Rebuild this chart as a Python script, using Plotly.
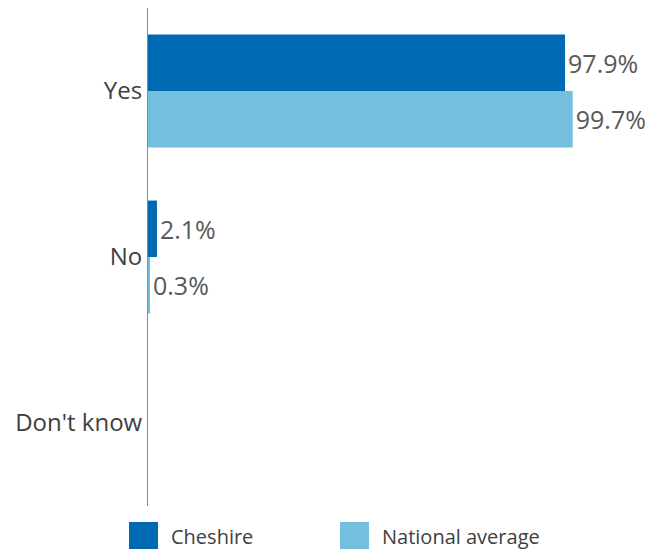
import plotly.graph_objects as go

categories = ["Yes", "No", "Don't know"]
series_names = ["Cheshire", "National average"]
cheshire = [97.9, 2.1, None]
national = [99.7, 0.3, None]
colors = ["#0069B4", "#74BFDD"]

# page body adds an 8px offset; figure sized to fit the 661x549 window
OFF = 8
W, H = 661 - OFF, 549 - OFF
ml, mr, mt, mb = 148 - OFF, 87, 0, 43
pw, ph = W - ml - mr, H - mt - mb

def px2x(p):
    return (p - OFF - ml) / pw

def px2y(p):
    return (H - mb - (p - OFF)) / ph

fig = go.Figure()
for name, vals, col in zip(series_names, [cheshire, national], colors):
    fig.add_trace(go.Bar(
        y=categories, x=vals, orientation="h", name=name,
        marker=dict(color=col, line=dict(width=0)),
        text=[f"{v:.1f}%" if v is not None else "" for v in vals],
        textposition="outside", cliponaxis=False,
        textfont=dict(family="Open Sans", size=25, color="#595959"),
    ))

shapes = []
annotations = []
legend_pos = [(129, 172), (340, 383)]
for (sx, tx), name, col in zip(legend_pos, series_names, colors):
    shapes.append(dict(type="rect", xref="paper", yref="paper",
                       x0=px2x(sx), x1=px2x(sx + 29), y0=px2y(522), y1=px2y(551),
                       fillcolor=col, line=dict(width=0)))
    annotations.append(dict(xref="paper", yref="paper", x=px2x(tx) , y=px2y(536),
                            xanchor="left", yanchor="middle", showarrow=False,
                            xshift=-3,
                            text=name, font=dict(family="Open Sans", size=20, color="#404040")))

fig.update_layout(
    width=W, height=H,
    margin=dict(l=ml, r=mr, t=mt, b=mb),
    barmode="group", bargap=0.32, bargroupgap=0,
    showlegend=False,
    plot_bgcolor="white", paper_bgcolor="white",
    shapes=shapes, annotations=annotations,
    xaxis=dict(range=[0, 100], visible=False, showgrid=False, zeroline=False),
    yaxis=dict(autorange="reversed", showline=True, linecolor="#888888", linewidth=1,
               showgrid=False, zeroline=False, ticks="", ticklabelstandoff=0,
               tickfont=dict(family="Open Sans", size=24, color="#404040")),
)

fig.write_html("out.html")
